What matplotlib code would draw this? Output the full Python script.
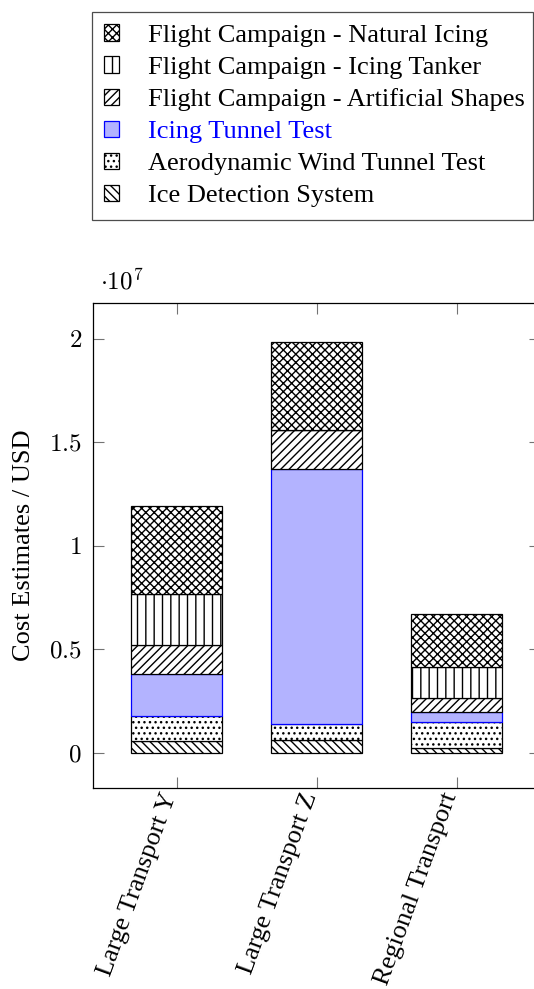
import matplotlib
matplotlib.use("Agg")
import matplotlib.pyplot as plt
from matplotlib.ticker import FixedLocator, FuncFormatter
from matplotlib.transforms import ScaledTranslation
import numpy as np

# values in USD
categories = ["Large Transport Y", "Large Transport Z", "Regional Transport"]
ice_detection = [0.57e6, 0.60e6, 0.24e6]
aero_tunnel = [1.22e6, 0.80e6, 1.23e6]
icing_tunnel = [2.00e6, 12.31e6, 0.48e6]
artificial_shapes = [1.40e6, 1.88e6, 0.68e6]
icing_tanker = [2.46e6, 0.0, 1.50e6]
natural_icing = [4.25e6, 4.25e6, 2.58e6]

series = [
    ("Ice Detection System", ice_detection, dict(facecolor="white", edgecolor="black", hatch="\\\\\\\\")),
    ("Aerodynamic Wind Tunnel Test", aero_tunnel, dict(facecolor="white", edgecolor="black", hatch="...")),
    ("Icing Tunnel Test", icing_tunnel, dict(facecolor="#b3b3ff", edgecolor="blue", hatch=None)),
    ("Flight Campaign - Artificial Shapes", artificial_shapes, dict(facecolor="white", edgecolor="black", hatch="////")),
    ("Flight Campaign - Icing Tanker", icing_tanker, dict(facecolor="white", edgecolor="black", hatch="||")),
    ("Flight Campaign - Natural Icing", natural_icing, dict(facecolor="white", edgecolor="black", hatch="xxxx")),
]

plt.rcParams["font.family"] = ["Liberation Serif", "DejaVu Serif"]
plt.rcParams["mathtext.fontset"] = "cm"
plt.rcParams["hatch.linewidth"] = 1.0
fs = 19

fig = plt.figure(figsize=(5.34, 9.89), dpi=100)
W, H = 534, 989
ax = fig.add_axes([93 / W, 1 - 788 / H, (540.4 - 93) / W, (788 - 303) / H])

x = np.arange(len(categories))
bottom = np.zeros(len(categories))
handles = []
for label, vals, style in series:
    vals = np.array(vals)
    b = ax.bar(x, vals, 0.65, bottom=bottom, linewidth=0.9, label=label, **style)
    handles.append(b)
    bottom += vals

ax.set_xlim(-0.598, 2.598)
ax.set_ylim(-1.70e6, 21.72e6)
ax.set_xticks(x)
ax.set_xticklabels(categories, rotation=70, ha="right", va="baseline",
                   rotation_mode="anchor", fontsize=fs)
shift = ScaledTranslation(3.5 / 100, 0, fig.dpi_scale_trans)
for lbl in ax.get_xticklabels():
    lbl.set_transform(lbl.get_transform() + shift)
ax.yaxis.set_major_locator(FixedLocator([0, 0.5e7, 1e7, 1.5e7, 2e7]))
ax.yaxis.set_major_formatter(FuncFormatter(lambda v, p: "$%g$" % (v / 1e7)))
ax.tick_params(axis="y", labelsize=fs - 1, pad=8)
ax.tick_params(axis="x", pad=5.5)
ax.tick_params(direction="in", length=8, width=0.8, color="0.45",
               top=True, right=True)
for s in ax.spines.values():
    s.set_linewidth(0.9)
ax.set_ylabel("Cost Estimates / USD", fontsize=fs, labelpad=10)
fig.text(100 / W, 1 - 289 / H, r"$\cdot 10^{7}$", fontsize=fs - 1, ha="left", va="baseline")

leg = fig.legend(handles[::-1], [s[0] for s in series][::-1],
                 loc="upper left", bbox_to_anchor=(92 / W, 1 - 12 / H, (533 - 92) / W, 0.0),
                 mode="expand", fontsize=fs, fancybox=False, edgecolor="0.3",
                 framealpha=1, handlelength=0.57, handleheight=0.57,
                 handletextpad=1.1, labelspacing=0.36, borderpad=0.47, borderaxespad=0)
leg.get_frame().set_linewidth(0.9)
leg.get_texts()[3].set_color("blue")

fig.savefig("out.png", dpi=100)
